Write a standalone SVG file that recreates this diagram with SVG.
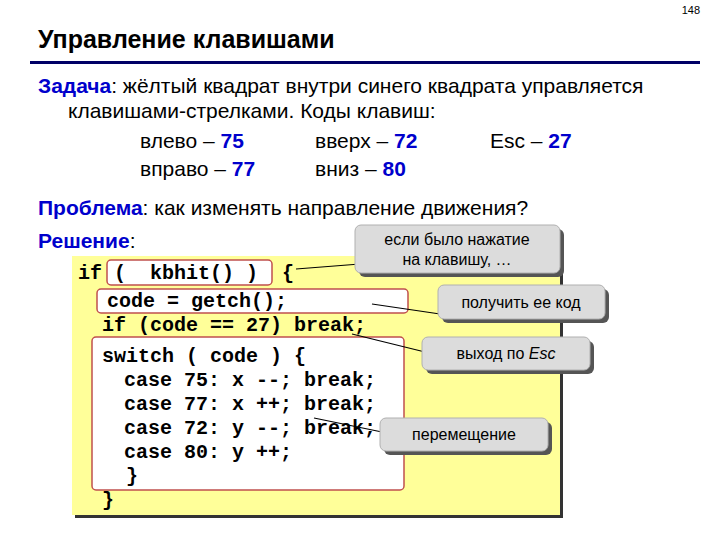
<svg xmlns="http://www.w3.org/2000/svg" width="720" height="540" viewBox="0 0 720 540">
<style>
.t{font-family:"Liberation Sans",Arial,sans-serif;font-size:21px;fill:#000}
.b{fill:#0000cc;font-weight:bold}
.c{font-family:"Liberation Mono","Courier New",monospace;font-size:20px;font-weight:bold;fill:#000}
.n{font-family:"Liberation Sans",Arial,sans-serif;font-size:16px;fill:#000;text-anchor:middle}
.red{fill:#fff;stroke:#c0504d;stroke-width:1.5}
.call{fill:#dcdcdc;stroke:#b0b0b0;stroke-width:1}
.sh{fill:#555}
</style>
<rect width="720" height="540" fill="#fff"/>
<text x="700" y="14" font-family="Liberation Sans,sans-serif" font-size="11" text-anchor="end">148</text>
<text x="38" y="48" font-family="Liberation Sans,Arial,sans-serif" font-size="25" font-weight="bold">Управление клавишами</text>
<rect x="30" y="61" width="670" height="3" fill="#000066"/>
<text class="t" x="38" y="93"><tspan class="b">Задача</tspan>: жёлтый квадрат внутри синего квадрата управляется</text>
<text class="t" x="68" y="118">клавишами-стрелками. Коды клавиш:</text>
<text class="t" x="140" y="148">влево – <tspan class="b">75</tspan></text>
<text class="t" x="315" y="148">вверх – <tspan class="b">72</tspan></text>
<text class="t" x="490" y="148">Esc – <tspan class="b">27</tspan></text>
<text class="t" x="140" y="176">вправо – <tspan class="b">77</tspan></text>
<text class="t" x="315" y="176">вниз – <tspan class="b">80</tspan></text>
<text class="t" x="38" y="215"><tspan class="b">Проблема</tspan>: как изменять направление движения?</text>
<text class="t" x="38" y="248"><tspan class="b">Решение</tspan>:</text>
<g id="codebox">
<rect x="75" y="259" width="488" height="259" fill="#333"/>
<rect x="72" y="256" width="488" height="259" fill="#ffff99"/>
<rect class="red" x="107" y="260" width="165" height="25" rx="4"/>
<rect class="red" x="97" y="289" width="311" height="24" rx="4"/>
<rect class="red" x="92" y="337" width="312" height="153" rx="4"/>
<text class="c" x="78" y="279" xml:space="preserve">if (  kbhit() )  {</text>
<text class="c" x="107" y="307">code = getch();</text>
<text class="c" x="102" y="331">if (code == 27) break;</text>
<text class="c" x="102" y="362">switch ( code ) {</text>
<text class="c" x="124" y="386">case 75: x --; break;</text>
<text class="c" x="124" y="410">case 77: x ++; break;</text>
<text class="c" x="124" y="434">case 72: y --; break;</text>
<text class="c" x="124" y="458">case 80: y ++;</text>
<text class="c" x="126" y="482">}</text>
<text class="c" x="102" y="506">}</text>
</g>
<g id="connectors" stroke="#000" stroke-width="1.2" fill="none">
<line x1="296" y1="269" x2="360" y2="264"/>
<line x1="372" y1="304" x2="440" y2="314"/>
<line x1="352" y1="334" x2="425" y2="352"/>
<line x1="314" y1="418" x2="382" y2="432"/>
</g>
<g id="c1"><rect class="sh" x="359" y="229" width="205" height="48" rx="6"/><rect class="call" x="355" y="225" width="205" height="48" rx="6"/><text class="n" x="457" y="245">если было нажатие</text><text class="n" x="457" y="265">на клавишу, …</text></g>
<g id="c2"><rect class="sh" x="442" y="289" width="167" height="34" rx="6"/><rect class="call" x="438" y="285" width="167" height="34" rx="6"/><text class="n" x="521" y="308">получить ее код</text></g>
<g id="c3"><rect class="sh" x="426" y="341" width="168" height="33" rx="6"/><rect class="call" x="422" y="337" width="168" height="33" rx="6"/><text class="n" x="506" y="359">выход по <tspan font-style="italic">Esc</tspan></text></g>
<g id="c4"><rect class="sh" x="384" y="422" width="168" height="33" rx="6"/><rect class="call" x="380" y="418" width="168" height="33" rx="6"/><text class="n" x="464" y="440">перемещение</text></g>
</svg>
